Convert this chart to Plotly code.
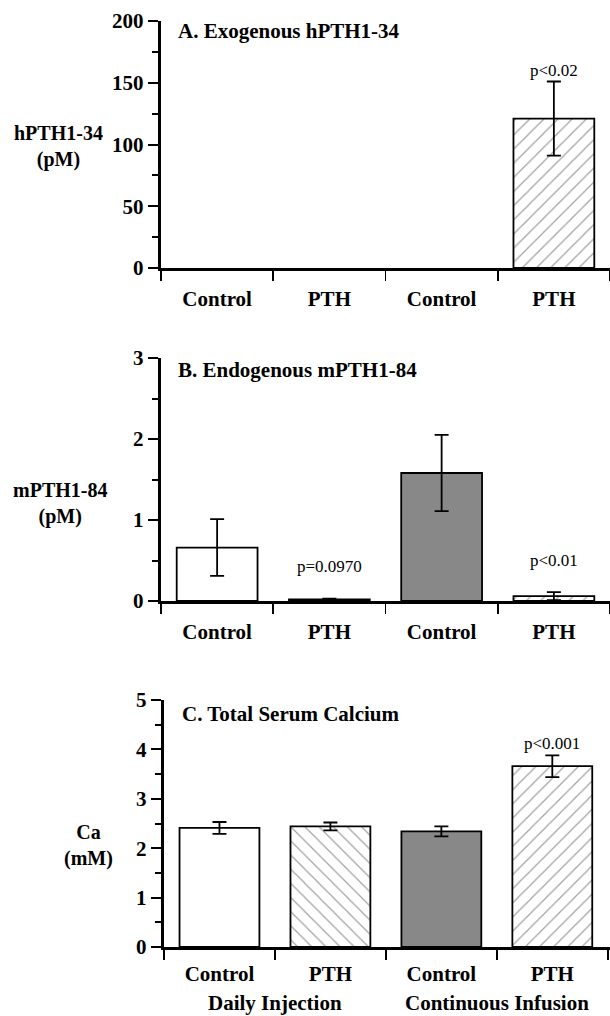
import plotly.graph_objects as go

categories = ["Control", "PTH", "Control", "PTH"]
groups = ["Daily Injection", "Continuous Infusion"]

a_values = [0, 0, 0, 121]
a_errors = [0, 0, 0, 30]
b_values = [0.66, 0.02, 1.58, 0.06]
b_errors = [0.35, 0.01, 0.47, 0.05]
c_values = [2.41, 2.44, 2.34, 3.66]
c_errors = [0.12, 0.08, 0.10, 0.22]

bar_colors = ["white", "white", "#888888", "white"]
bar_patterns = ["", "\\", "", "/"]

a_pvals = [("p<0.02", 3, 160)]
b_pvals = [("p=0.0970", 1, 0.43), ("p<0.01", 3, 0.5)]
c_pvals = [("p<0.001", 3, 4.12)]

FONT = "Liberation Serif"
W, H = 610, 1016

fig = go.Figure()

panels = [
    (a_values, a_errors, "x", "y"),
    (b_values, b_errors, "x2", "y2"),
    (c_values, c_errors, "x3", "y3"),
]
xs = list(range(len(categories)))
for vals, errs, xa, ya in panels:
    fig.add_trace(go.Bar(
        x=xs, y=vals, xaxis=xa, yaxis=ya, width=0.72,
        marker=dict(color=bar_colors,
                    line=dict(color="black", width=[1.8 if v > 0 else 0 for v in vals]),
                    pattern=dict(shape=bar_patterns, fgcolor="#000000",
                                 size=10, solidity=0.12)),
        showlegend=False, hoverinfo="skip",
    ))
    keep = [i for i, e in enumerate(errs) if e > 0]
    fig.add_trace(go.Scatter(
        x=[xs[i] for i in keep], y=[vals[i] for i in keep], xaxis=xa, yaxis=ya,
        mode="markers", marker=dict(size=1, opacity=0),
        error_y=dict(type="data", array=[errs[i] for i in keep], visible=True,
                     color="black", thickness=1.8, width=7),
        showlegend=False, hoverinfo="skip",
    ))


def ydom(top_px, bottom_px):
    return [(H - bottom_px) / H, (H - top_px) / H]


def xaxis(dom, anchor, rng, standoff):
    return dict(
        domain=dom, anchor=anchor, range=rng, automargin=False,
        tickvals=xs, ticktext=categories, ticks="",
        ticklabelstandoff=standoff,
        tickfont=dict(family=FONT, size=21, color="black", weight="bold"),
        showline=True, linewidth=3.2, linecolor="black",
        showgrid=False, zeroline=False, fixedrange=True,
        minor=dict(tick0=-0.5, dtick=1, ticks="outside", ticklen=10,
                   tickwidth=1.8, tickcolor="black", showgrid=False),
    )


def yaxis(dom, anchor, rng, dtick, mdtick):
    return dict(
        domain=dom, anchor=anchor, range=rng, dtick=dtick, tick0=0, automargin=False,
        ticks="outside", ticklen=10, tickwidth=2, tickcolor="black",
        tickfont=dict(family=FONT, size=21, color="black", weight="bold"),
        showline=True, linewidth=3.2, linecolor="black",
        showgrid=False, zeroline=False, fixedrange=True,
        minor=dict(dtick=mdtick, ticks="outside", ticklen=6, tickwidth=2,
                   tickcolor="black", showgrid=False),
    )


xa_dom = [161 / W, 1.0]
xc_dom = [164 / W, 1.0]

fig.update_layout(
    width=W, height=H,
    margin=dict(l=0, r=0, t=0, b=0, autoexpand=False),
    paper_bgcolor="white", plot_bgcolor="white",
    xaxis=xaxis(xa_dom, "y", [-0.5, 3.5], 10),
    yaxis=yaxis(ydom(21, 268), "x", [0, 200], 50, 25),
    xaxis2=xaxis(xa_dom, "y2", [-0.5, 3.5], 10),
    yaxis2=yaxis(ydom(358, 601), "x2", [0, 3], 1, 0.5),
    xaxis3=xaxis(xc_dom, "y3", [-0.5, 3.52], 6),
    yaxis3=yaxis(ydom(700, 947), "x3", [0, 5], 1, 0.5),
)

ann = []


def paper_text(text, x_px, y_px, size=20, bold=True, xanchor="center"):
    t = "<b>%s</b>" % text if bold else text
    ann.append(dict(text=t, x=x_px / W, y=1 - y_px / H, xref="paper", yref="paper",
                    xanchor=xanchor, yanchor="middle", showarrow=False,
                    font=dict(family=FONT, size=size, color="black")))


paper_text("hPTH1-34<br>(pM)", 58, 147)
paper_text("mPTH1-84<br>(pM)", 60, 503)
paper_text("Ca<br>(mM)", 88, 845)
paper_text("A. Exogenous hPTH1-34", 176, 31, size=21, xanchor="left")
paper_text("B. Endogenous mPTH1-84", 176, 370, size=21, xanchor="left")
paper_text("C. Total Serum Calcium", 180, 714, size=21, xanchor="left")

for pv, (xr, yr) in [(a_pvals, ("x", "y")), (b_pvals, ("x2", "y2")), (c_pvals, ("x3", "y3"))]:
    for text, xi, yv in pv:
        ann.append(dict(text=text, x=xi, y=yv, xref=xr, yref=yr, showarrow=False,
                        xanchor="center", yanchor="middle",
                        font=dict(family=FONT, size=17, color="black")))

for gi, g in enumerate(groups):
    ann.append(dict(text="<b>%s</b>" % g, x=0.5 + 2 * gi, y=1 - 1003 / H,
                    xref="x3", yref="paper", showarrow=False,
                    xanchor="center", yanchor="middle",
                    font=dict(family=FONT, size=21, color="black")))

fig.update_layout(annotations=ann)
fig.write_html(
    "out.html",
    config={"displayModeBar": False, "staticPlot": True},
    post_script=(
        "var d=document.getElementById('{plot_id}');"
        "d.style.position='fixed';d.style.top='0px';d.style.left='0px';"
        "document.body.style.margin='0';document.body.style.overflow='hidden';"
        "document.documentElement.style.overflow='hidden';"
    ),
)
